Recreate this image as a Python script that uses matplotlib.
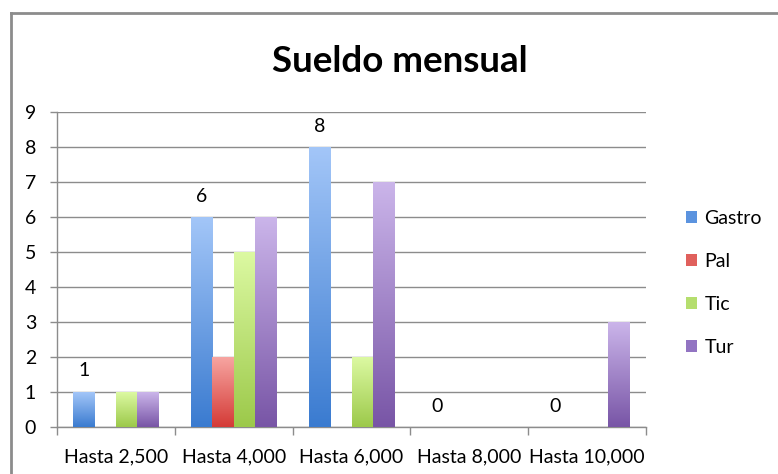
import matplotlib
matplotlib.use("Agg")
import matplotlib.pyplot as plt
import numpy as np
from matplotlib.patches import Patch
from matplotlib.colors import LinearSegmentedColormap
from matplotlib.lines import Line2D

categories = ["Hasta 2,500", "Hasta 4,000", "Hasta 6,000", "Hasta 8,000", "Hasta 10,000"]
series_names = ["Gastro", "Pal", "Tic", "Tur"]
gastro = [1, 6, 8, 0, 0]
pal = [0, 2, 0, 0, 0]
tic = [1, 5, 2, 0, 0]
tur = [1, 6, 7, 0, 3]
series_values = [gastro, pal, tic, tur]
yticks = list(range(0, 10))

top_colors = ["#a3c6f8", "#f7a5a1", "#dcf9a2", "#cbb5ea"]
bottom_colors = ["#3a7bd0", "#d43a36", "#9cc94a", "#7855a6"]
mid_colors = ["#5b93df", "#e0605c", "#b5de6e", "#9274c2"]

plt.rcParams['font.family'] = ['Lato', 'DejaVu Sans']
FS = 14

fig = plt.figure(figsize=(7.78, 4.74), dpi=100)
ax = fig.add_axes([57/778, 1-427/474, (646-57)/778, (427-112)/474])

x = np.arange(len(categories))
bw = 0.18
offsets = [-1.5, -0.5, 0.5, 1.5]

grad = np.linspace(0, 1, 256).reshape(-1, 1)
for i, (vals, off) in enumerate(zip(series_values, offsets)):
    cmap = LinearSegmentedColormap.from_list(f"c{i}", [bottom_colors[i], top_colors[i]])
    bars = ax.bar(x + off*bw, vals, width=bw, color="none", edgecolor="none", zorder=3)
    for b, v in zip(bars, vals):
        if v <= 0:
            continue
        x0 = b.get_x()
        im = ax.imshow(grad, cmap=cmap, origin="lower", aspect="auto",
                       extent=[x0, x0 + bw, 0, v], zorder=3, interpolation="bilinear")
        im.set_clip_path(b)
    if i == 0:
        for xi, v in zip(x + off*bw, vals):
            ax.annotate(str(v), (xi, v), xytext=(0, 9), textcoords="offset points",
                        ha="center", va="bottom", fontsize=FS, color="black")

ax.set_xlim(-0.5, len(categories) - 0.5)
ax.set_ylim(0, 9)
ax.set_yticks(yticks)
ax.set_yticklabels([str(t) for t in yticks], fontsize=FS)
ax.yaxis.grid(True, color="#8c8c8c", linewidth=1.0, zorder=0)
ax.set_axisbelow(True)
ax.tick_params(axis="y", length=5, color="#8c8c8c", pad=10, width=1)

# x ticks at category boundaries, labels at centers
ax.set_xticks(np.arange(-0.5, len(categories), 1.0))
ax.set_xticklabels([""] * (len(categories) + 1))
ax.set_xticks(x, minor=True)
ax.set_xticklabels(categories, minor=True, fontsize=FS)
ax.tick_params(axis="x", which="major", length=6, color="#8c8c8c", width=1)
ax.tick_params(axis="x", which="minor", length=0, pad=15.5)

for s in ["top", "right"]:
    ax.spines[s].set_visible(False)
for s in ["left", "bottom"]:
    ax.spines[s].set_color("#8c8c8c")
    ax.spines[s].set_linewidth(1)

fig.text(400/778, 1-62/474, "Sueldo mensual", ha="center", va="center",
         fontsize=26.5, fontweight="bold", color="black")

handles = [Patch(facecolor=c, edgecolor="none") for c in mid_colors]
leg = fig.legend(handles, series_names, loc="center left",
                 bbox_to_anchor=(686/778, 1-283/474), frameon=False, fontsize=FS,
                 borderpad=0, borderaxespad=0,
                 handlelength=0.55, handleheight=0.55, handletextpad=0.4, labelspacing=1.33)

# outer border lines (top and left)
fig.add_artist(Line2D([11/778, 11/778], [0, 1-13/474], color="#8c8c8c", linewidth=2, transform=fig.transFigure))
fig.add_artist(Line2D([11/778, 1], [1-13/474, 1-13/474], color="#8c8c8c", linewidth=2, transform=fig.transFigure))

fig.savefig("out.png", dpi=100)
